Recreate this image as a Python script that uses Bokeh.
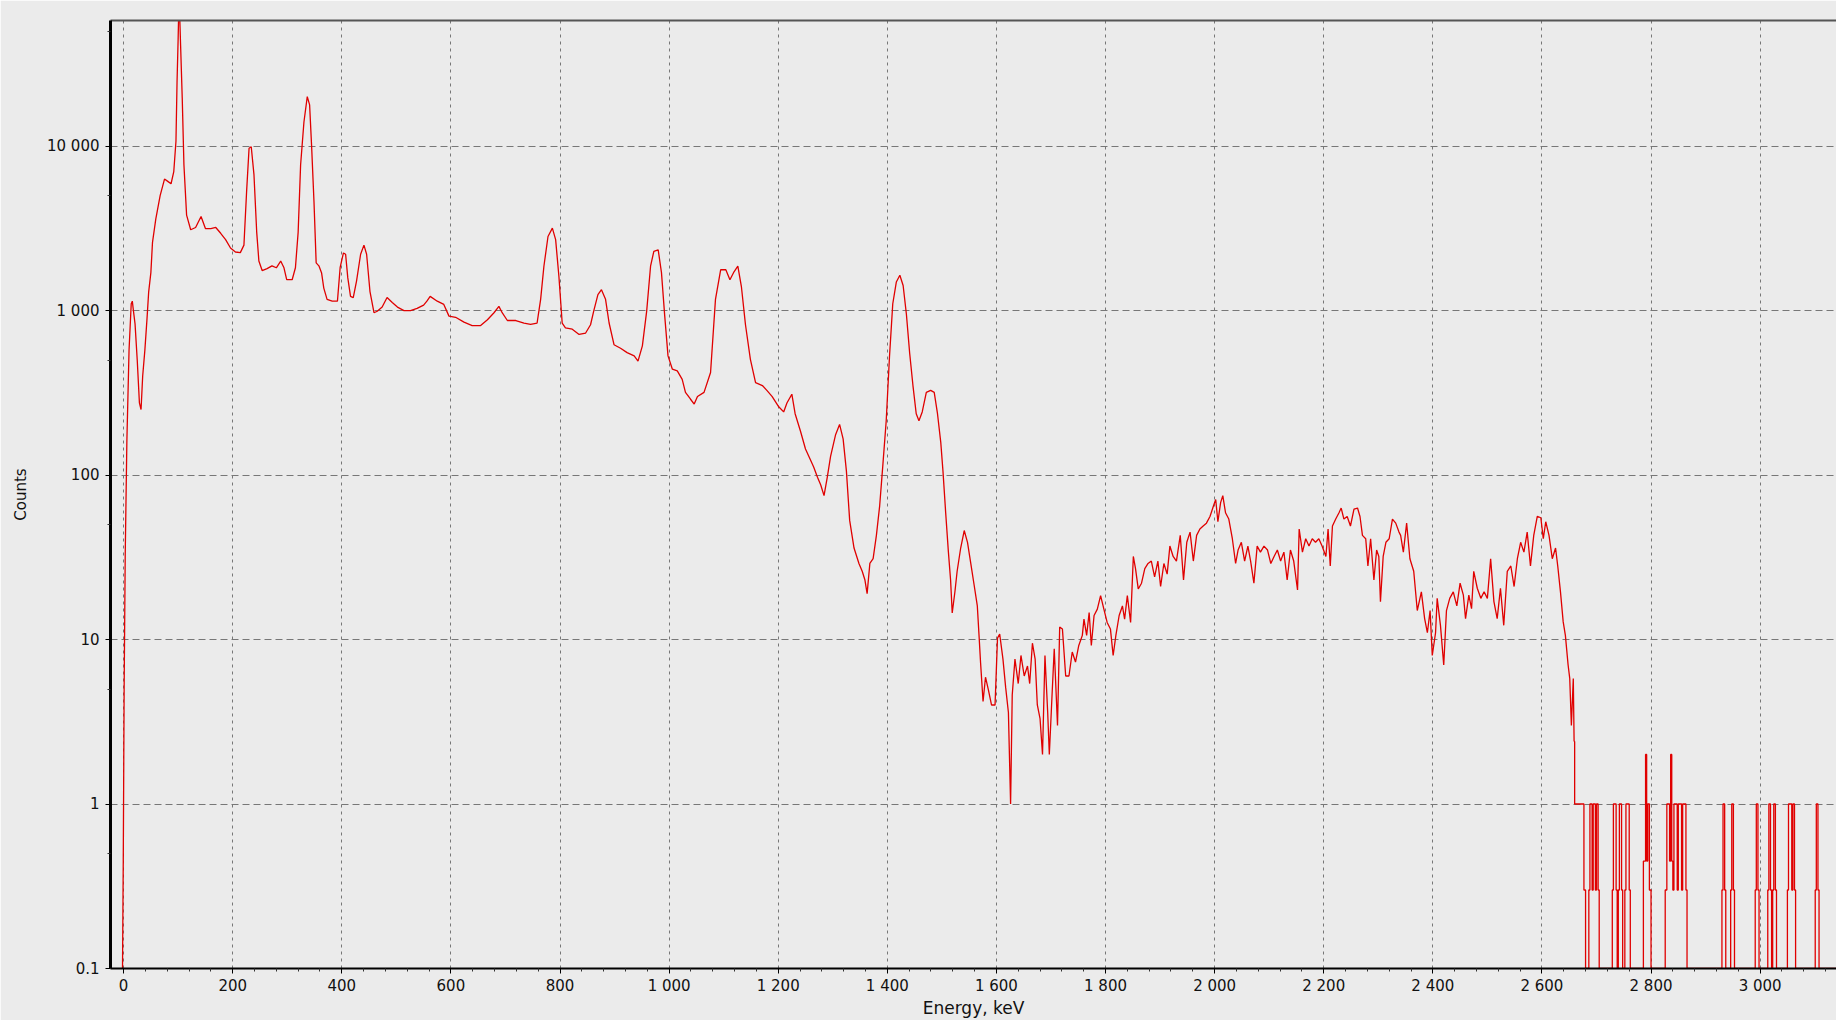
from bokeh.plotting import figure
from bokeh.models import Range1d, FixedTicker, LinearAxis
from bokeh.embed import file_html
from bokeh.resources import INLINE

# ---------------- data ----------------
spectrum_energy = [
    -2, -0.6, 1, 3, 6, 10, 14, 16, 18, 21, 25, 29, 32, 35, 39, 43, 46, 50, 53, 59,
    67, 75, 81, 87, 92, 96, 98, 100, 101, 103, 104.5, 107.5, 110.6, 115.5, 123, 132, 142, 150, 160, 169,
    178, 187, 196, 205, 214, 220.6, 225.5, 230, 234, 239, 244, 248, 254, 263, 272, 280, 288, 294, 299, 309,
    315, 320, 324.5, 330.6, 336.7, 341, 344.6, 349, 353, 358, 363, 367, 373, 382.5, 392, 397, 403, 407, 411, 416,
    421, 427, 434.5, 440.6, 445.5, 451.6, 459, 465, 474, 483, 492.5, 502, 514, 526, 538, 550, 556, 562, 575, 587,
    596.5, 608.6, 624, 639, 654.5, 667, 679, 688, 694, 703.5, 719, 734, 746, 758, 764.5, 770.5, 778, 786, 792, 798,
    804, 810, 822.5, 835, 847, 856, 862, 869.5, 876, 883.5, 890, 899, 911, 923, 936, 943, 951, 959, 966, 972,
    980, 986, 992, 998, 1006, 1015, 1024, 1030, 1039, 1046, 1052, 1064, 1076, 1085, 1094.5, 1104, 1111.5, 1119, 1126, 1132.5,
    1140, 1149, 1158.5, 1171, 1180, 1189, 1201, 1210, 1216, 1225, 1231, 1241, 1250, 1259, 1265, 1272, 1278, 1284, 1290, 1296,
    1305, 1312.5, 1319, 1325, 1331, 1339, 1348, 1354, 1359, 1363, 1368, 1374, 1380, 1386, 1392, 1398, 1404, 1410, 1416.5, 1423,
    1429, 1435, 1441, 1447, 1453, 1458, 1464, 1471.5, 1479.5, 1486, 1492, 1498, 1502, 1507, 1512, 1516, 1519, 1524, 1528, 1534.5,
    1541, 1547, 1553, 1559, 1565, 1568, 1571, 1575.5, 1580, 1585, 1591, 1597.5, 1602, 1606, 1612, 1617, 1622, 1626, 1629, 1634,
    1640, 1645, 1651, 1657, 1661, 1666, 1671, 1675, 1680, 1684.5, 1689, 1694, 1697, 1702, 1706, 1712, 1716, 1721, 1727, 1733,
    1739, 1745, 1751, 1757.5, 1760.5, 1765.4, 1770, 1774, 1779, 1785, 1791, 1797, 1803, 1809, 1814, 1819, 1825, 1831, 1835, 1840,
    1846, 1851, 1855, 1860, 1866, 1872, 1878, 1884, 1890, 1896, 1901, 1907, 1913, 1918, 1924, 1930, 1937, 1943, 1949, 1955,
    1961, 1967, 1973, 1979, 1985, 1991.5, 1998, 2002, 2006, 2011, 2015, 2020, 2026, 2032.5, 2038.5, 2043, 2049, 2055, 2061, 2066,
    2072, 2078, 2084, 2090.5, 2097, 2103, 2109, 2115, 2121, 2127, 2133, 2139, 2145, 2152, 2155, 2161, 2167, 2173, 2179, 2185,
    2191, 2197, 2204, 2208, 2212, 2216, 2222, 2228, 2232, 2237, 2243, 2249, 2255.5, 2262, 2266.5, 2271, 2277, 2281, 2286, 2292,
    2297, 2301, 2304, 2309, 2314, 2320, 2326, 2332, 2338, 2341, 2346, 2352, 2358, 2365, 2371.5, 2379, 2385, 2390, 2395, 2399,
    2405, 2408, 2414, 2420, 2425, 2431, 2437.5, 2444, 2450, 2456, 2460, 2466, 2471, 2475, 2481.5, 2488, 2494, 2500, 2506, 2512,
    2518, 2524, 2530, 2536.5, 2543, 2549, 2555, 2561, 2567, 2573, 2579, 2585, 2591.5, 2598, 2602.5, 2607, 2613, 2619, 2625, 2629,
    2634, 2639, 2643, 2648, 2651, 2654, 2657.5, 2659,
]
spectrum_counts = [
    0.1, 0.45, 5, 33, 160, 575, 1100, 1140, 1000, 830, 500, 275, 250, 400, 575, 900, 1300, 1700, 2600, 3600,
    5000, 6300, 6100, 5900, 7000, 10700, 24700, 45000, 65000, 60000, 41000, 19600, 7700, 3800, 3100, 3200, 3730, 3150, 3150, 3200,
    2950, 2700, 2400, 2270, 2250, 2500, 5300, 9700, 9900, 6700, 3000, 2000, 1750, 1800, 1870, 1820, 2000, 1820, 1540, 1540,
    1820, 3000, 7700, 14000, 20000, 17800, 10100, 4600, 1950, 1870, 1690, 1370, 1170, 1140, 1140, 1830, 2240, 2200, 1580, 1220,
    1200, 1510, 2200, 2500, 2200, 1310, 970, 990, 1050, 1200, 1120, 1050, 1000, 1000, 1030, 1080, 1140, 1220, 1140, 1090,
    925, 910, 850, 810, 810, 880, 970, 1060, 970, 870, 870, 840, 825, 840, 1170, 1860, 2820, 3170, 2700, 1610,
    840, 785, 770, 716, 730, 820, 1000, 1250, 1340, 1170, 840, 620, 590, 555, 530, 493, 610, 1000, 1860, 2290,
    2340, 1700, 925, 530, 440, 430, 382, 318, 290, 270, 300, 318, 420, 1170, 1770, 1770, 1540, 1720, 1860, 1400,
    820, 505, 365, 350, 325, 300, 260, 242, 274, 310, 236, 184, 144, 124, 112, 97, 87, 75, 97, 130,
    175, 203, 166, 106, 53, 36, 29, 26, 23, 19, 29, 31, 43, 65, 117, 214, 524, 1100, 1490, 1640,
    1420, 950, 550, 350, 236, 214, 242, 318, 327, 318, 236, 158, 106, 59, 34, 23, 14.5, 19.6, 26, 36,
    46, 39, 29, 21.6, 16, 10.8, 7.2, 4.2, 5.9, 5, 4, 4, 10.2, 10.8, 7.6, 5.1, 3.6, 1, 4.6, 7.6,
    5.4, 8, 6, 6.9, 5.4, 9.5, 7.6, 4, 3.3, 2, 8, 3.6, 2, 4.6, 8.8, 3, 11.9, 11.6, 6, 6,
    8.4, 7.3, 9.2, 10.6, 13.3, 10.6, 14.6, 9.2, 14, 15.3, 18.5, 15.3, 12.7, 11.6, 8, 10.6, 14, 16, 13.3, 18.5,
    12.7, 32, 27, 20.3, 22, 27, 29, 30, 24, 30, 21, 29, 25, 37, 32, 30, 43, 23, 39, 45,
    30, 43, 47, 49, 51, 56, 65, 71, 52, 68, 75, 59, 54, 41, 29, 35, 39, 30, 37, 30,
    22, 37, 34, 37, 35, 29, 32, 35, 30, 34, 23, 35, 30, 20, 47, 34, 41, 37, 41, 39,
    41, 37, 32, 47, 28, 49, 54, 59, 63, 54, 56, 49, 62, 63, 56, 43, 41, 28, 41, 23,
    35, 32, 17, 32, 39, 41, 54, 51, 45, 43, 34, 51, 31, 26, 15, 19.5, 13.4, 11, 15, 8,
    11, 17.8, 12.2, 7, 15, 17.8, 19.5, 16, 22, 18.6, 13.4, 18.6, 15.4, 26, 20.5, 17.8, 19.5, 17.8, 31, 17,
    13.4, 20.5, 12.2, 26, 28, 21, 31, 39, 34, 45, 28, 43, 56, 55, 41, 52, 43, 31, 36, 28,
    19.5, 12.8, 10.6, 7, 5.8, 3, 5.8, 2.4,
]

# sparse high-energy tail (single counts), drawn as steps
tail_energy = [
    2659, 2660, 2677, 2680, 2686, 2688, 2692, 2694, 2698, 2700, 2703, 2705, 2729, 2731, 2736, 2738, 2740, 2742, 2746, 2748,
    2752, 2754, 2760, 2762, 2786, 2790, 2792, 2794, 2797, 2800, 2826, 2829, 2834, 2836, 2838, 2840, 2842, 2848, 2850, 2856,
    2858, 2864, 2866, 2930, 2932, 2935, 2937, 2946, 2948, 2951, 2953, 2991, 2993, 2996, 2998, 3014, 3016, 3019, 3021, 3023,
    3025, 3028, 3030, 3050, 3052, 3058, 3060, 3063, 3065, 3101, 3103, 3106, 3108, 3140,
]
tail_counts = [
    2.4, 1, 0.3, 0.1, 0.3, 1, 0.3, 1, 0.3, 1, 0.3, 0.1, 0.3, 1, 0.3, 0.1, 0.3, 1, 0.3, 0.1,
    0.3, 1, 0.3, 0.1, 0.45, 2, 0.45, 1, 0.3, 0.1, 0.3, 1, 0.45, 2, 0.45, 0.3, 1, 0.3, 1, 0.3,
    1, 0.3, 0.1, 0.3, 1, 0.3, 0.1, 0.3, 1, 0.3, 0.1, 0.3, 1, 0.3, 0.1, 0.3, 1, 0.3, 0.1, 0.3,
    1, 0.3, 0.1, 0.3, 1, 0.3, 1, 0.3, 0.1, 0.3, 1, 0.3, 0.1, 0.1,
]

x_tick_values = list(range(0, 3001, 200))
x_tick_labels = ["0", "200", "400", "600", "800", "1 000", "1 200", "1 400", "1 600",
                 "1 800", "2 000", "2 200", "2 400", "2 600", "2 800", "3 000"]
y_tick_values = [0.1, 1, 10, 100, 1000, 10000]
y_tick_labels = ["0.1", "1", "10", "100", "1 000", "10 000"]
y_minor_values = [0.5, 5, 50, 500, 5000, 50000]

# ---------------- figure ----------------
BG = "#EBEBEB"
p = figure(width=1836, height=1020, y_axis_type="log",
           x_range=Range1d(-24, 3140), y_range=Range1d(0.1, 58000),
           output_backend="svg", toolbar_location=None,
           min_border_left=110, min_border_right=0, min_border_top=20, min_border_bottom=50,
           background_fill_color=BG, border_fill_color=BG, outline_line_color=None)

p.line(spectrum_energy, spectrum_counts, line_color="#E00000", line_width=1.3)
p.step(tail_energy, tail_counts, mode="after", line_color="#E00000", line_width=1.3)

# axes
xminor = [v for v in range(0, 3121, 40) if v % 200 != 0]
p.xaxis.ticker = FixedTicker(ticks=x_tick_values, minor_ticks=xminor)
p.yaxis.ticker = FixedTicker(ticks=y_tick_values, minor_ticks=y_minor_values)
p.xaxis.major_label_overrides = {v: s for v, s in zip(x_tick_values, x_tick_labels)}
p.yaxis.major_label_overrides = {v: s for v, s in zip(y_tick_values, y_tick_labels)}

for ax in (p.xaxis[0], p.yaxis[0]):
    ax.axis_line_color = "black"
    ax.major_tick_line_color = "black"
    ax.minor_tick_line_color = "#333333"
    ax.major_tick_out = 5
    ax.major_tick_in = 0
    ax.minor_tick_out = 3
    ax.minor_tick_in = 0
    ax.major_label_text_font = "DejaVu Sans"
    ax.major_label_text_font_size = "15px"
    ax.major_label_text_color = "#111111"
    ax.axis_label_text_font = "DejaVu Sans"
    ax.axis_label_text_font_style = "normal"
    ax.axis_label_text_color = "#111111"

p.yaxis.axis_line_width = 3
p.xaxis.axis_line_width = 2
p.yaxis.major_label_standoff = 6
p.xaxis.major_label_standoff = 3
p.xaxis.axis_label = "Energy, keV"
p.xaxis.axis_label_text_font_size = "17px"
p.xaxis.axis_label_standoff = 0
p.yaxis.axis_label = "Counts"
p.yaxis.axis_label_text_font_size = "15px"
p.yaxis.axis_label_standoff = 14

top = LinearAxis(ticker=FixedTicker(ticks=[]), axis_line_color="#555555", axis_line_width=2,
                 major_tick_line_color=None, minor_tick_line_color=None,
                 major_label_text_font_size="0px")
p.add_layout(top, "above")

# grid
p.xgrid.grid_line_color = "#777777"
p.xgrid.grid_line_dash = "3 4"
p.xgrid.grid_line_width = 1
p.ygrid.grid_line_color = "#777777"
p.ygrid.grid_line_dash = "7 4"
p.ygrid.grid_line_width = 1

open("out.html", "w").write(file_html(p, INLINE))
